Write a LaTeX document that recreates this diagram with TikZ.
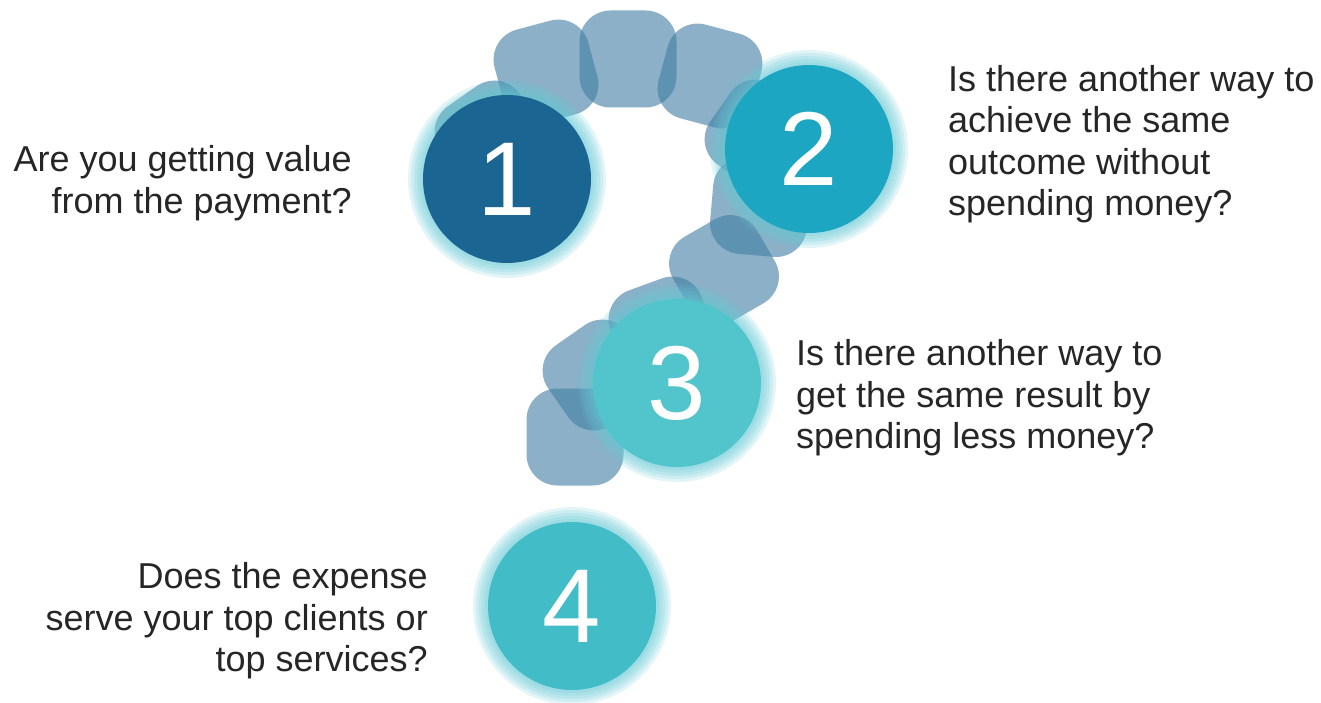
\documentclass[tikz,border=0pt]{standalone}
\usepackage{fontspec}
\setmainfont{Liberation Sans}
\usepackage{xcolor}
\usepackage{tikz}
\definecolor{blobc}{RGB}{67,127,164}
\definecolor{glowc}{RGB}{100,200,212}
\definecolor{qone}{RGB}{26,101,145}
\definecolor{qtwo}{RGB}{29,166,193}
\definecolor{qthree}{RGB}{82,196,204}
\definecolor{qfour}{RGB}{66,188,198}
\definecolor{ink}{RGB}{38,38,38}

\begin{document}
\begin{tikzpicture}[x=1pt,y=-1pt,
  blob/.style={minimum size=97pt,inner sep=0pt,rounded corners=31pt,fill=blobc,fill opacity=0.62},
  disc/.style={circle,minimum size=168pt,inner sep=0pt,text=white,font=\fontsize{105}{110}\selectfont},
  lab/.style={text=ink,font=\fontsize{36}{41.5}\selectfont,inner sep=0pt}]
\useasboundingbox (0,0) rectangle (1321,703);
\foreach \x/\y/\r [count=\k] in {490/136/35,546/72/15,628/59/0,710/76/-15,760/135/-35,760/207/-5,724/270/30,662/330/20,598/375/35,575/437/0}
  { \node[blob,rotate=\r] (b\k) at (\x,\y) {}; }
\foreach \cx/\cy/\col [count=\k] in {507/179/qone,809/149/qtwo,677/383/qthree,572/606/qfour} {
  \coordinate (c\k) at (\cx,\cy);
  \foreach \g in {15,12,9,6,3} { \fill[glowc,fill opacity=0.18] (c\k) circle (84+\g); }
  \node[disc,fill=\col] (q\k) at (c\k) {\k};
}
\node[lab,anchor=east,align=right] (t1) at (352,183) {Are you getting value\\from the payment?};
\node[lab,anchor=west,align=left] (t2) at (948,144) {Is there another way to\\achieve the same\\outcome without\\spending money?};
\node[lab,anchor=west,align=left] (t3) at (796,398) {Is there another way to\\get the same result by\\spending less money?};
\node[lab,anchor=east,align=right] (t4) at (428,621) {Does the expense\\serve your top clients or\\top services?};
\end{tikzpicture}
\end{document}
